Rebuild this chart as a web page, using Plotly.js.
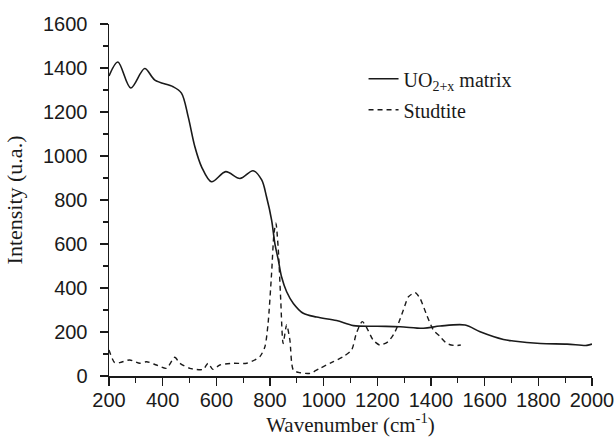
<!DOCTYPE html>
<html>
<head>
<meta charset="utf-8">
<script src="https://cdn.plot.ly/plotly-3.0.1.min.js"></script>
<style>
  html, body { margin: 0; padding: 0; background: #fff; }
  #chart { width: 616px; height: 438px; }
</style>
</head>
<body>
<div id="chart"></div>
<script>
// Raman spectrum of the UO2+x matrix
const matrixWavenumber = [200, 233, 281, 333, 371, 439, 470, 495, 520, 545, 582, 635, 688, 737, 769, 787, 806, 818, 831, 843, 862, 887, 924, 974, 1048, 1111, 1200, 1285, 1372, 1434, 1527, 1583, 1670, 1707, 1808, 1907, 1981, 2000];
const matrixIntensity  = [1364, 1427, 1309, 1398, 1345, 1315, 1286, 1179, 1042, 951, 883, 929, 898, 933, 891, 815, 709, 603, 527, 451, 383, 330, 285, 268, 252, 229, 226, 224, 217, 227, 232, 201, 166, 159, 148, 145, 139, 145];

// Raman spectrum of studtite
const studtiteWavenumber = [200, 221, 240, 277, 315, 340, 377, 414, 445, 464, 501, 551, 569, 587, 613, 663, 713, 762, 781, 793, 806, 815, 822, 831, 840, 849, 862, 874, 887, 912, 949, 986, 1036, 1073, 1104, 1122, 1144, 1165, 1184, 1209, 1240, 1266, 1297, 1316, 1341, 1359, 1384, 1409, 1434, 1459, 1490, 1511];
const studtiteIntensity  = [118, 61, 61, 73, 58, 65, 50, 35, 85, 58, 35, 30, 58, 30, 50, 58, 58, 88, 133, 241, 468, 650, 694, 573, 345, 148, 232, 164, 27, 15, 12, 35, 65, 88, 118, 194, 247, 209, 164, 141, 156, 201, 300, 360, 379, 353, 277, 209, 179, 148, 138, 141];

const xTicks = [200, 400, 600, 800, 1000, 1200, 1400, 1600, 1800, 2000];
const yTicks = [0, 200, 400, 600, 800, 1000, 1200, 1400, 1600];

const serif = 'Liberation Serif, Times New Roman, serif';
const sans = 'Liberation Sans, Arial, sans-serif';
const ink = '#1a1a1a';

const traces = [
  {
    x: matrixWavenumber, y: matrixIntensity,
    type: 'scatter', mode: 'lines',
    name: 'UO<sub>2+x</sub> matrix',
    legendgroup: 'a',
    line: { color: ink, width: 1.6, shape: 'spline', smoothing: 0.9 }
  },
  {
    x: studtiteWavenumber, y: studtiteIntensity,
    type: 'scatter', mode: 'lines',
    name: 'Studtite',
    legendgroup: 'b',
    line: { color: ink, width: 1.4, dash: '5px,4px', shape: 'spline', smoothing: 0.7 }
  }
];

const axisCommon = {
  showgrid: false,
  zeroline: false,
  showline: true,
  linecolor: ink,
  linewidth: 1.5,
  ticks: 'outside',
  ticklen: 8,
  tickwidth: 1.3,
  tickcolor: ink,
  tickfont: { family: sans, size: 20, color: ink },
  fixedrange: true
};

const layout = {
  width: 616,
  height: 438,
  margin: { l: 109, r: 24, t: 24, b: 62 },
  paper_bgcolor: '#fff',
  plot_bgcolor: '#fff',
  showlegend: true,
  legend: {
    x: 0.527, y: 0.9, xanchor: 'left', yanchor: 'top',
    bgcolor: 'rgba(0,0,0,0)',
    font: { family: serif, size: 20, color: ink },
    traceorder: 'grouped',
    tracegroupgap: 2
  },
  xaxis: Object.assign({}, axisCommon, {
    range: [200, 2000],
    tickvals: xTicks,
    ticktext: xTicks.map(String),
    minor: { dtick: 100, ticks: 'outside', ticklen: 5, tickwidth: 1.2, tickcolor: ink },
    ticklabelstandoff: -3,
    title: { text: 'Wavenumber (cm<sup>-1</sup>)', font: { family: serif, size: 21, color: ink }, standoff: 6 }
  }),
  yaxis: Object.assign({}, axisCommon, {
    range: [0, 1600],
    tickvals: yTicks,
    ticktext: yTicks.map(String),
    minor: { dtick: 100, ticks: 'outside', ticklen: 5, tickwidth: 1.2, tickcolor: ink },
    ticklabelstandoff: 8,
    title: { text: 'Intensity (u.a.)', font: { family: serif, size: 22, color: ink }, standoff: 14 }
  })
};

Plotly.newPlot('chart', traces, layout, { displayModeBar: false, staticPlot: true });
</script>
</body>
</html>
